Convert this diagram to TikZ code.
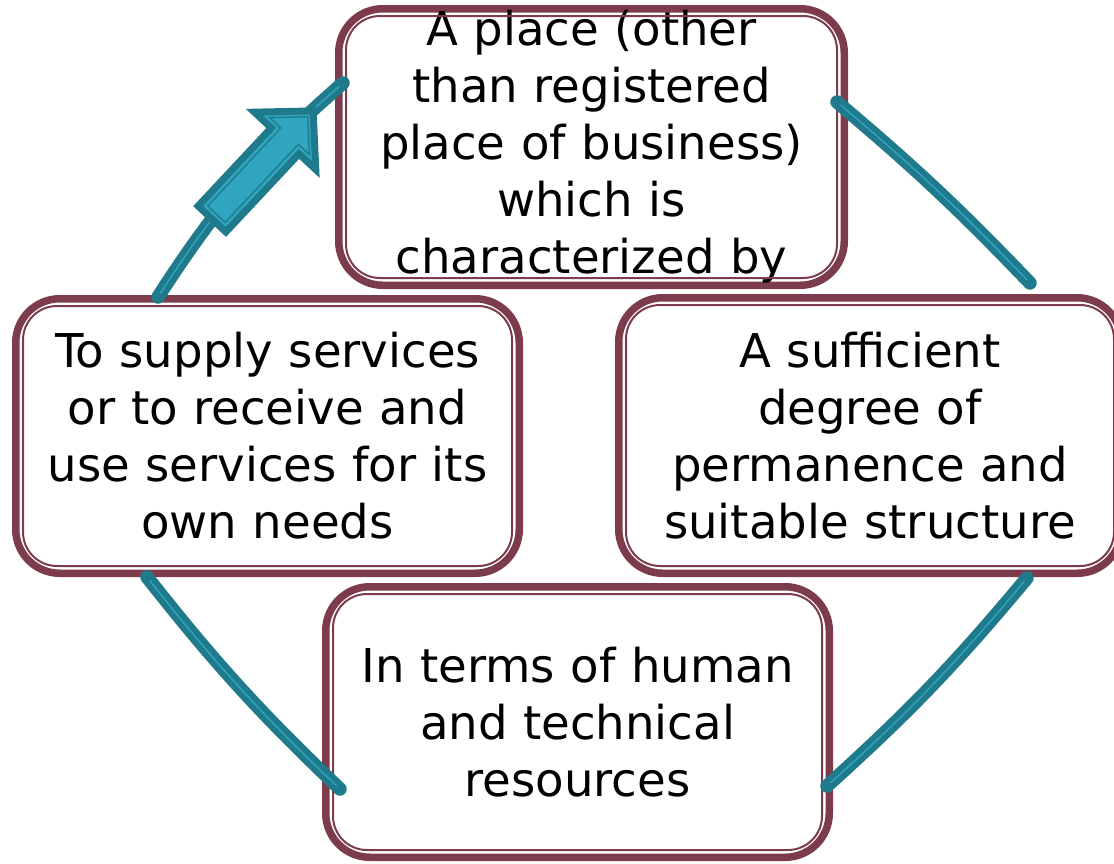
\documentclass[tikz,border=0pt]{standalone}
\usepackage{fontspec}
\setmainfont{DejaVu Sans}
\usetikzlibrary{calc}
\definecolor{maroon}{RGB}{125,60,75}
\definecolor{tealdk}{RGB}{31,122,140}
\definecolor{teallt}{RGB}{47,165,192}
\tikzset{
  boxnode/.style={draw=maroon, line width=7.5pt, rounded corners=44pt, inner sep=0pt,
    outer sep=3.75pt, align=center, text width=495pt, fill=white,
    font=\fontsize{46.6}{57}\selectfont},
  innerline/.style={draw=maroon, line width=2pt, rounded corners=34pt},
  conn/.style={draw=tealdk, line width=13.5pt, line cap=round,
    postaction={draw=teallt, line width=1.4pt, shorten >=5pt, shorten <=5pt}},
  arrowbody/.style={fill=teallt, draw=tealdk, line width=7pt, line join=miter},
  arrowinner/.style={draw=tealdk, line width=1.3pt, line join=miter}
}
\begin{document}
\begin{tikzpicture}[x=1pt,y=1pt]
\useasboundingbox (0,0) rectangle (1114,-863);
\clip (0,0) rectangle (1114,-863);

% boxes
\node[boxnode, minimum width=505.5pt, minimum height=276.5pt] (top) at (591.5,-147)
  {A place (other\\than registered\\place of business)\\which is\\characterized by};
\node[boxnode, minimum width=503.5pt, minimum height=274.5pt] (left) at (267.5,-436)
  {To supply services\\or to receive and\\use services for its\\own needs};
\node[boxnode, minimum width=502.5pt, minimum height=275.5pt] (right) at (870,-435.5)
  {A sufficient\\degree of\\permanence and\\suitable structure};
\node[boxnode, minimum width=503.5pt, minimum height=270.5pt] (bottom) at (577.5,-722)
  {In terms of human\\and technical\\resources};

\foreach \n in {top,left,right,bottom}{
  \draw[innerline] ($(\n.north west)+(11,-11)$) rectangle ($(\n.south east)+(-11,11)$);
}

% connector end points
\coordinate (a1) at ($(left.north west)+(146,-2)$);
\coordinate (a2) at ($(top.north west)+(8,-78)$);
\coordinate (b1) at ($(top.north east)+(-11,-97)$);
\coordinate (b2) at ($(right.north west)+(415,11)$);
\coordinate (c1) at ($(right.south west)+(412,-1)$);
\coordinate (c2) at ($(bottom.north east)+(-6,-203)$);
\coordinate (d1) at ($(bottom.north west)+(18,-206)$);
\coordinate (d2) at ($(left.south west)+(135,0)$);

\draw[conn] (a1) to[bend left=8] (a2);
\draw[conn] (b1) to[bend left=3] (b2);
\draw[conn] (c1) to[bend left=4] (c2);
\draw[conn] (d1) to[bend left=4] (d2);

% block arrow on the first connector
\begin{scope}[shift={(212,-219)}, rotate=46.9]
  \filldraw[arrowbody] (0,-19) -- (107,-19) -- (107,-42) -- (148,0) -- (107,42)
    -- (107,19) -- (0,19) -- cycle;
  \draw[arrowinner] (6.5,-12) -- (113.5,-12) -- (113.5,-27) -- (140,0) -- (113.5,27)
    -- (113.5,12) -- (6.5,12) -- cycle;
\end{scope}
\end{tikzpicture}
\end{document}
